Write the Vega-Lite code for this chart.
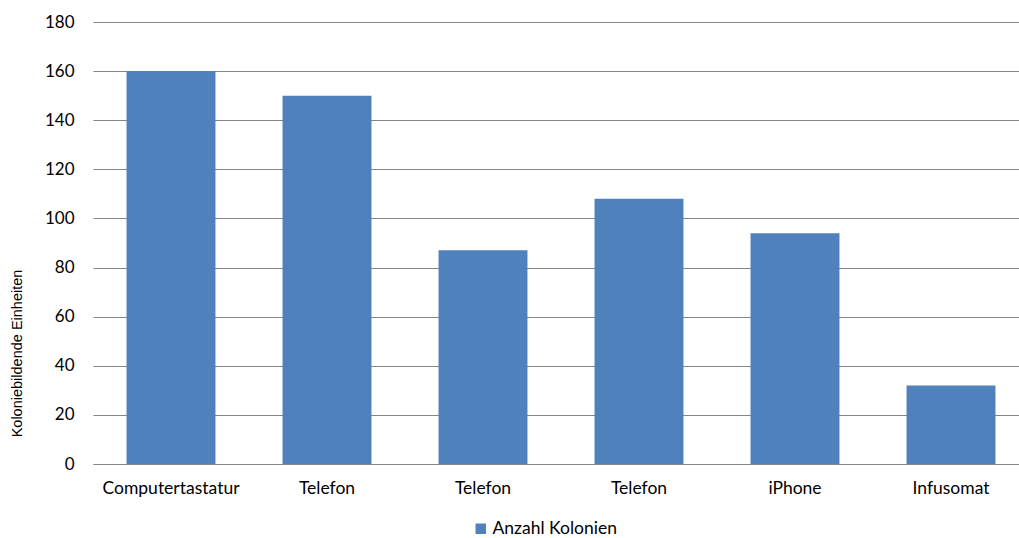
{
  "$schema": "https://vega.github.io/schema/vega-lite/v6.json",
  "autosize": {"type": "none"},
  "padding": {"left": 93, "top": 22, "right": 0, "bottom": 74},
  "width": 926,
  "height": 442,
  "background": "white",
  "data": {
    "values": [
      {"Objekt": "Computertastatur#1", "Anzahl": 160, "Serie": "Anzahl Kolonien"},
      {"Objekt": "Telefon#2", "Anzahl": 150, "Serie": "Anzahl Kolonien"},
      {"Objekt": "Telefon#3", "Anzahl": 87, "Serie": "Anzahl Kolonien"},
      {"Objekt": "Telefon#4", "Anzahl": 108, "Serie": "Anzahl Kolonien"},
      {"Objekt": "iPhone#5", "Anzahl": 94, "Serie": "Anzahl Kolonien"},
      {"Objekt": "Infusomat#6", "Anzahl": 32, "Serie": "Anzahl Kolonien"}
    ]
  },
  "mark": {"type": "bar"},
  "encoding": {
    "x": {
      "field": "Objekt",
      "type": "nominal",
      "sort": null,
      "scale": {"range": [0, 936], "paddingInner": 0.43, "paddingOuter": 0.215},
      "axis": {
        "title": null,
        "labelAngle": 0,
        "labelExpr": "split(datum.label, '#')[0]",
        "labelFont": "Lato",
        "labelFontSize": 17.5,
        "labelColor": "#000000",
        "labelPadding": 15,
        "ticks": false,
        "domainColor": "#868686",
        "domainWidth": 1,
        "grid": false
      }
    },
    "y": {
      "field": "Anzahl",
      "type": "quantitative",
      "scale": {"domain": [0, 180], "nice": false},
      "axis": {
        "values": [0, 20, 40, 60, 80, 100, 120, 140, 160, 180],
        "title": "Koloniebildende Einheiten",
        "titleFont": "Liberation Sans",
        "titleFontSize": 14.5,
        "titleFontWeight": "normal",
        "titleColor": "#000000",
        "titlePadding": 20,
        "titleY": 331,
        "labelFont": "Lato",
        "labelFontSize": 17,
        "labelColor": "#000000",
        "labelPadding": 19,
        "ticks": false,
        "domain": false,
        "grid": true,
        "gridColor": "#868686",
        "gridWidth": 1
      }
    },
    "color": {
      "field": "Serie",
      "type": "nominal",
      "scale": {"range": ["#4F81BD"]},
      "legend": {
        "title": null,
        "orient": "none",
        "legendX": 379,
        "legendY": 498,
        "symbolType": "square",
        "symbolSize": 110,
        "symbolStrokeWidth": 0,
        "labelFont": "Lato",
        "labelFontSize": 17.5,
        "labelColor": "#000000",
        "labelOffset": 3
      }
    }
  },
  "config": {"view": {"stroke": null}}
}
